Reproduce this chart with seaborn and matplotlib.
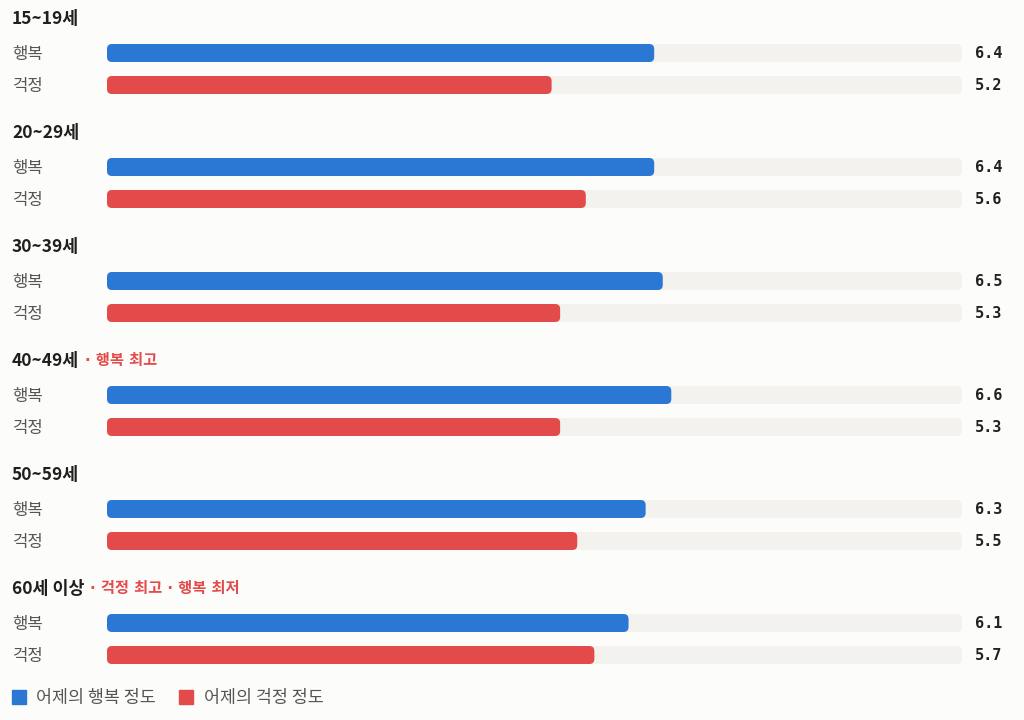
import pandas as pd
import matplotlib.pyplot as plt
import seaborn as sns
from matplotlib.patches import FancyBboxPatch
from matplotlib.lines import Line2D
from matplotlib.transforms import blended_transform_factory

age_groups = ['15~19세', '20~29세', '30~39세', '40~49세', '50~59세', '60세 이상']
happy = [6.4, 6.4, 6.5, 6.6, 6.3, 6.1]
worry = [5.2, 5.6, 5.3, 5.3, 5.5, 5.7]
notes = ['', '', '', '· 행복 최고', '', '· 걱정 최고 · 행복 최저']
row_labels = ['행복', '걱정']
legend_labels = ['어제의 행복 정도', '어제의 걱정 정도']
scale_max = 10

BLUE = '#2b78d4'
RED = '#e34a4a'
TRACK = '#f3f2ee'
BG = '#fcfcfa'

sns.set_theme(style='white')
plt.rcParams['font.family'] = ['Noto Sans CJK KR', 'DejaVu Sans']

W, H = 1024, 720
fig = plt.figure(figsize=(W / 100, H / 100), dpi=100, facecolor=BG)
# axes spans the bar track area horizontally, full height (y in pixels from top)
ax = fig.add_axes([107 / W, 0, 855 / W, 1])
ax.set_facecolor('none')

# layout positions (pixels from top)
head_y = [18 + 114 * i for i in range(len(age_groups))]
rows = []
for i, g in enumerate(age_groups):
    rows.append({'y': head_y[i] + 35, 'kind': '행복', 'value': happy[i], 'track': scale_max})
    rows.append({'y': head_y[i] + 67, 'kind': '걱정', 'value': worry[i], 'track': scale_max})
df = pd.DataFrame(rows)

bar_w = 18 / 32  # relative to the smallest row spacing

sns.barplot(data=df, x='track', y='y', orient='h', native_scale=True,
            color=TRACK, saturation=1, width=bar_w, ax=ax, errorbar=None)
sns.barplot(data=df, x='value', y='y', orient='h', native_scale=True,
            hue='kind', palette={'행복': BLUE, '걱정': RED}, dodge=False,
            saturation=1, width=bar_w, ax=ax, errorbar=None, legend=False)

ax.set_xlim(0, scale_max)
ax.set_ylim(H, 0)
ax.axis('off')

# rounded bar ends
px_per_unit = 855 / scale_max
r = 5 / px_per_unit
for k, p in enumerate(list(ax.patches)):
    x0, y0, w, h = p.get_x(), p.get_y(), p.get_width(), p.get_height()
    fc = p.get_facecolor()
    p.remove()
    ax.add_patch(FancyBboxPatch((x0, y0), w, h,
                                boxstyle=f'round,pad=0,rounding_size={r}',
                                mutation_aspect=px_per_unit,
                                facecolor=fc, edgecolor='none',
                                zorder=1 if k < len(df) else 2))

trans = blended_transform_factory(fig.transFigure, ax.transData)
for i, g in enumerate(age_groups):
    t = ax.text(12 / W, head_y[i] + 1, g, transform=trans, fontsize=12.5,
                fontweight='bold', color='#1f1f1f', va='center', ha='left')
    if notes[i]:
        ax.annotate(notes[i], xy=(1, 0.5), xycoords=t, xytext=(4, 0),
                    textcoords='offset points', va='center', ha='left',
                    fontsize=11, fontweight='bold', color=RED,
                    family=['DejaVu Sans', 'Noto Sans CJK KR'])
    for j, (lab, v) in enumerate(zip(row_labels, [happy[i], worry[i]])):
        y = head_y[i] + 35 + 32 * j
        ax.text(12 / W, y + 1.5, lab, transform=trans, fontsize=12, color='#555555',
                va='center', ha='left')
        ax.text(975 / W, y, f'{v:.1f}', transform=trans, fontsize=11,
                fontweight='bold', color='#222222', va='center', ha='left',
                family='DejaVu Sans Mono')

handles = [Line2D([], [], marker='s', linestyle='none', markersize=10.5,
                  markerfacecolor=c, markeredgecolor=c) for c in [BLUE, RED]]
leg = fig.legend(handles, legend_labels, loc='center left',
                 bbox_to_anchor=(11 / W, 1 - 698 / H), ncol=2, frameon=False,
                 fontsize=12.5, handlelength=0.9, handletextpad=0.55,
                 columnspacing=1.3, borderaxespad=0, borderpad=0)
for txt in leg.get_texts():
    txt.set_color('#555555')

fig.savefig('out.png', dpi=100, facecolor=BG)
